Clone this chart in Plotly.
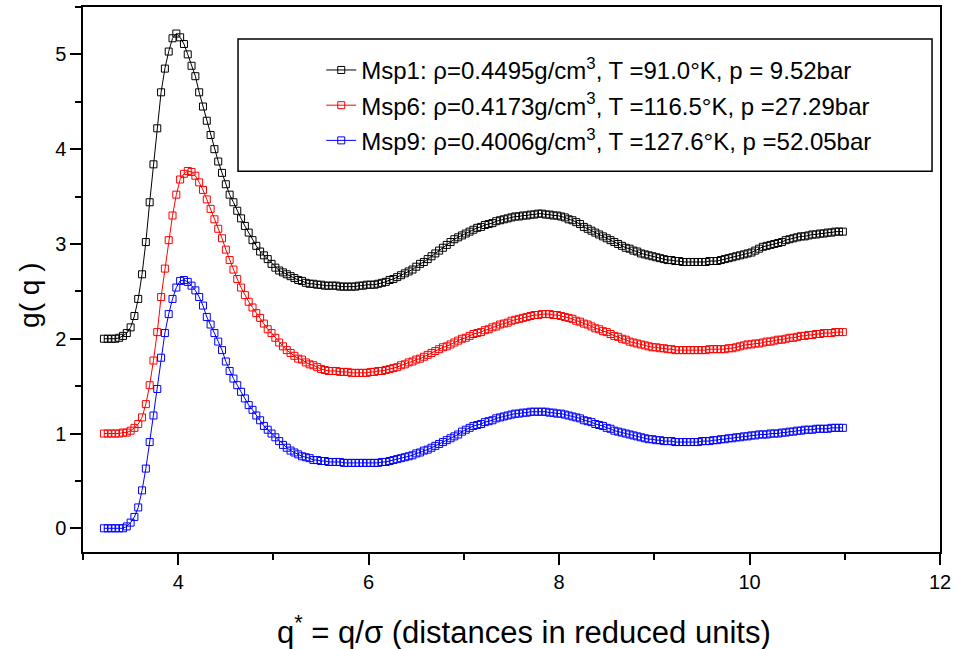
import plotly.graph_objects as go

# reduced distance q* (shared sampling grid)
q_star = [3.22, 3.26, 3.30, 3.34, 3.38, 3.42, 3.46, 3.50, 3.54, 3.58,
          3.62, 3.66, 3.70, 3.74, 3.78, 3.82, 3.86, 3.90, 3.94, 3.98,
          4.02, 4.06, 4.10, 4.14, 4.18, 4.22, 4.26, 4.30, 4.34, 4.38,
          4.42, 4.46, 4.50, 4.54, 4.58, 4.62, 4.66, 4.70, 4.74, 4.78,
          4.82, 4.86, 4.90, 4.94, 4.98, 5.02, 5.06, 5.10, 5.14, 5.18,
          5.22, 5.26, 5.30, 5.34, 5.38, 5.42, 5.46, 5.50, 5.54, 5.58,
          5.62, 5.66, 5.70, 5.74, 5.78, 5.82, 5.86, 5.90, 5.94, 5.98,
          6.02, 6.06, 6.10, 6.14, 6.18, 6.22, 6.26, 6.30, 6.34, 6.38,
          6.42, 6.46, 6.50, 6.54, 6.58, 6.62, 6.66, 6.70, 6.74, 6.78,
          6.82, 6.86, 6.90, 6.94, 6.98, 7.02, 7.06, 7.10, 7.14, 7.18,
          7.22, 7.26, 7.30, 7.34, 7.38, 7.42, 7.46, 7.50, 7.54, 7.58,
          7.62, 7.66, 7.70, 7.74, 7.78, 7.82, 7.86, 7.90, 7.94, 7.98,
          8.02, 8.06, 8.10, 8.14, 8.18, 8.22, 8.26, 8.30, 8.34, 8.38,
          8.42, 8.46, 8.50, 8.54, 8.58, 8.62, 8.66, 8.70, 8.74, 8.78,
          8.82, 8.86, 8.90, 8.94, 8.98, 9.02, 9.06, 9.10, 9.14, 9.18,
          9.22, 9.26, 9.30, 9.34, 9.38, 9.42, 9.46, 9.50, 9.54, 9.58,
          9.62, 9.66, 9.70, 9.74, 9.78, 9.82, 9.86, 9.90, 9.94, 9.98,
          10.02, 10.06, 10.10, 10.14, 10.18, 10.22, 10.26, 10.30, 10.34, 10.38,
          10.42, 10.46, 10.50, 10.54, 10.58, 10.62, 10.66, 10.70, 10.74, 10.78,
          10.82, 10.86, 10.90, 10.94, 10.98]

g_msp1 = [2.00, 2.00, 2.00, 2.00, 2.01, 2.03, 2.06, 2.12, 2.24, 2.42,
          2.68, 3.02, 3.44, 3.84, 4.22, 4.60, 4.85, 5.03, 5.17, 5.22,
          5.18, 5.11, 5.00, 4.88, 4.77, 4.60, 4.45, 4.30, 4.15, 4.00,
          3.87, 3.75, 3.63, 3.52, 3.44, 3.35, 3.27, 3.19, 3.12, 3.04,
          2.98, 2.92, 2.88, 2.84, 2.79, 2.75, 2.72, 2.70, 2.68, 2.66,
          2.64, 2.62, 2.61, 2.59, 2.58, 2.58, 2.57, 2.57, 2.56, 2.56,
          2.56, 2.56, 2.55, 2.55, 2.55, 2.55, 2.55, 2.56, 2.56, 2.57,
          2.57, 2.57, 2.58, 2.59, 2.60, 2.62, 2.63, 2.65, 2.67, 2.69,
          2.71, 2.73, 2.76, 2.79, 2.81, 2.84, 2.87, 2.90, 2.93, 2.96,
          2.99, 3.02, 3.05, 3.07, 3.09, 3.11, 3.13, 3.15, 3.17, 3.18,
          3.20, 3.21, 3.22, 3.24, 3.25, 3.26, 3.27, 3.28, 3.29, 3.29,
          3.30, 3.30, 3.31, 3.31, 3.32, 3.32, 3.31, 3.31, 3.30, 3.30,
          3.29, 3.28, 3.26, 3.25, 3.23, 3.21, 3.18, 3.16, 3.14, 3.12,
          3.10, 3.08, 3.06, 3.04, 3.02, 3.00, 2.98, 2.96, 2.95, 2.93,
          2.92, 2.90, 2.89, 2.88, 2.87, 2.86, 2.85, 2.84, 2.83, 2.83,
          2.82, 2.82, 2.81, 2.81, 2.81, 2.81, 2.81, 2.81, 2.81, 2.82,
          2.82, 2.82, 2.83, 2.84, 2.85, 2.86, 2.87, 2.88, 2.89, 2.90,
          2.91, 2.93, 2.95, 2.97, 2.98, 2.99, 3.00, 3.01, 3.02, 3.04,
          3.05, 3.06, 3.07, 3.08, 3.08, 3.09, 3.10, 3.10, 3.11, 3.11,
          3.12, 3.12, 3.13, 3.13, 3.13]

g_msp6 = [1.00, 1.00, 1.00, 1.00, 1.00, 1.01, 1.01, 1.03, 1.06, 1.10,
          1.17, 1.31, 1.51, 1.77, 2.07, 2.44, 2.74, 3.04, 3.30, 3.52,
          3.68, 3.74, 3.77, 3.76, 3.72, 3.65, 3.57, 3.47, 3.37, 3.26,
          3.16, 3.06, 2.94, 2.83, 2.73, 2.63, 2.54, 2.46, 2.39, 2.33,
          2.27, 2.22, 2.16, 2.10, 2.06, 2.01, 1.96, 1.92, 1.88, 1.85,
          1.82, 1.79, 1.78, 1.75, 1.73, 1.72, 1.70, 1.68, 1.67, 1.66,
          1.66, 1.66, 1.65, 1.65, 1.65, 1.64, 1.64, 1.64, 1.64, 1.64,
          1.65, 1.65, 1.66, 1.66, 1.67, 1.68, 1.69, 1.70, 1.72, 1.73,
          1.75, 1.76, 1.78, 1.79, 1.81, 1.83, 1.85, 1.87, 1.89, 1.91,
          1.92, 1.94, 1.96, 1.98, 2.00, 2.01, 2.03, 2.05, 2.06, 2.07,
          2.09, 2.10, 2.12, 2.13, 2.15, 2.16, 2.17, 2.19, 2.20, 2.21,
          2.22, 2.23, 2.24, 2.25, 2.25, 2.26, 2.26, 2.26, 2.25, 2.25,
          2.24, 2.23, 2.22, 2.21, 2.19, 2.18, 2.16, 2.15, 2.13, 2.11,
          2.10, 2.08, 2.07, 2.05, 2.03, 2.02, 2.00, 1.99, 1.97, 1.96,
          1.95, 1.94, 1.93, 1.92, 1.91, 1.91, 1.90, 1.90, 1.89, 1.89,
          1.88, 1.88, 1.88, 1.88, 1.88, 1.88, 1.88, 1.88, 1.88, 1.89,
          1.89, 1.89, 1.89, 1.89, 1.90, 1.90, 1.91, 1.92, 1.93, 1.94,
          1.94, 1.95, 1.95, 1.96, 1.97, 1.97, 1.98, 1.99, 1.99, 2.00,
          2.01, 2.01, 2.02, 2.03, 2.03, 2.04, 2.04, 2.05, 2.05, 2.06,
          2.06, 2.06, 2.07, 2.07, 2.07]

g_msp9 = [0.00, 0.00, 0.00, 0.00, 0.00, 0.00, 0.02, 0.06, 0.12, 0.22,
          0.40, 0.63, 0.91, 1.19, 1.47, 1.80, 2.06, 2.26, 2.42, 2.54,
          2.61, 2.62, 2.60, 2.56, 2.51, 2.44, 2.35, 2.23, 2.15, 2.06,
          1.97, 1.88, 1.76, 1.66, 1.58, 1.51, 1.44, 1.37, 1.30, 1.25,
          1.19, 1.14, 1.08, 1.04, 1.00, 0.96, 0.92, 0.88, 0.85, 0.82,
          0.80, 0.78, 0.76, 0.75, 0.74, 0.72, 0.72, 0.71, 0.71, 0.70,
          0.70, 0.70, 0.70, 0.69, 0.69, 0.69, 0.69, 0.69, 0.69, 0.69,
          0.69, 0.69, 0.69, 0.70, 0.70, 0.71, 0.72, 0.73, 0.74, 0.75,
          0.76, 0.77, 0.79, 0.80, 0.82, 0.83, 0.85, 0.87, 0.89, 0.91,
          0.93, 0.95, 0.97, 0.99, 1.02, 1.04, 1.06, 1.08, 1.09, 1.10,
          1.12, 1.13, 1.14, 1.16, 1.17, 1.18, 1.19, 1.20, 1.21, 1.21,
          1.22, 1.22, 1.23, 1.23, 1.23, 1.23, 1.23, 1.22, 1.22, 1.21,
          1.21, 1.20, 1.19, 1.18, 1.17, 1.16, 1.14, 1.13, 1.12, 1.10,
          1.09, 1.08, 1.06, 1.05, 1.03, 1.02, 1.01, 1.00, 0.99, 0.98,
          0.97, 0.96, 0.95, 0.94, 0.94, 0.93, 0.93, 0.92, 0.92, 0.92,
          0.91, 0.91, 0.91, 0.91, 0.91, 0.91, 0.91, 0.92, 0.92, 0.92,
          0.93, 0.93, 0.94, 0.94, 0.95, 0.95, 0.96, 0.96, 0.97, 0.97,
          0.98, 0.98, 0.99, 0.99, 0.99, 1.00, 1.00, 1.00, 1.01, 1.01,
          1.02, 1.02, 1.03, 1.03, 1.04, 1.04, 1.04, 1.05, 1.05, 1.05,
          1.05, 1.06, 1.06, 1.06, 1.06]

series_names = [
    "Msp1: ρ=0.4495g/cm<sup>3</sup>, T =91.0°K, p = 9.52bar",
    "Msp6: ρ=0.4173g/cm<sup>3</sup>, T =116.5°K, p =27.29bar",
    "Msp9: ρ=0.4006g/cm<sup>3</sup>, T =127.6°K, p =52.05bar",
]
series_values = [g_msp1, g_msp6, g_msp9]
series_colors = ["#000000", "#FF0000", "#0000FF"]

FONT = "Liberation Sans, Arial, sans-serif"

fig = go.Figure()
for i, (name, vals, col) in enumerate(zip(series_names, series_values, series_colors)):
    fig.add_trace(go.Scatter(
        x=q_star, y=vals, name=name, mode="lines+markers",
        legendgroup=f"g{i}",
        line=dict(color=col, width=1),
        marker=dict(symbol="square-open", size=7, color=col, line=dict(width=1, color=col)),
    ))

axis_common = dict(
    showline=True, linewidth=1.5, linecolor="black", mirror=True,
    ticks="outside", ticklen=11, tickwidth=1.5, tickcolor="black",
    showgrid=False, zeroline=False,
    tickfont=dict(family=FONT, size=20, color="black"),
)

fig.update_layout(
    width=958, height=649,
    margin=dict(l=83, r=18, t=5, b=97),
    paper_bgcolor="white", plot_bgcolor="white",
    font=dict(family=FONT, color="black"),
    xaxis=dict(
        range=[3, 12], tickmode="linear", tick0=0, dtick=2,
        minor=dict(tickmode="linear", tick0=0, dtick=1, ticks="outside", ticklen=6,
                   tickwidth=1.5, tickcolor="black", showgrid=False),
        **axis_common,
    ),
    yaxis=dict(
        range=[-0.25, 5.5], tickmode="linear", tick0=0, dtick=1,
        minor=dict(tickmode="linear", tick0=0, dtick=0.5, ticks="outside", ticklen=6,
                   tickwidth=1.5, tickcolor="black", showgrid=False),
        **axis_common,
    ),
    legend=dict(
        x=0.278, y=0.925, xanchor="left", yanchor="top",
        bgcolor="rgba(0,0,0,0)", borderwidth=0,
        font=dict(family=FONT, size=24, color="black"),
        tracegroupgap=1,
    ),
    shapes=[dict(type="rect", xref="paper", yref="paper",
                 x0=0.1809, x1=0.9907, y0=0.6984, y1=0.9415,
                 line=dict(color="black", width=1.5), fillcolor="rgba(0,0,0,0)")],
    annotations=[
        dict(text="g( q )", xref="paper", yref="paper",
             x=-0.0618, y=0.47, xanchor="center", yanchor="middle",
             textangle=-90, showarrow=False,
             font=dict(family=FONT, size=28, color="black")),
        dict(text="q<sup>*</sup> = q/σ (distances in reduced units)",
             xref="paper", yref="paper", x=0.5146, y=-0.143,
             xanchor="center", yanchor="middle", showarrow=False,
             font=dict(family=FONT, size=31, color="black")),
    ],
)

fig.write_html("out.html")
